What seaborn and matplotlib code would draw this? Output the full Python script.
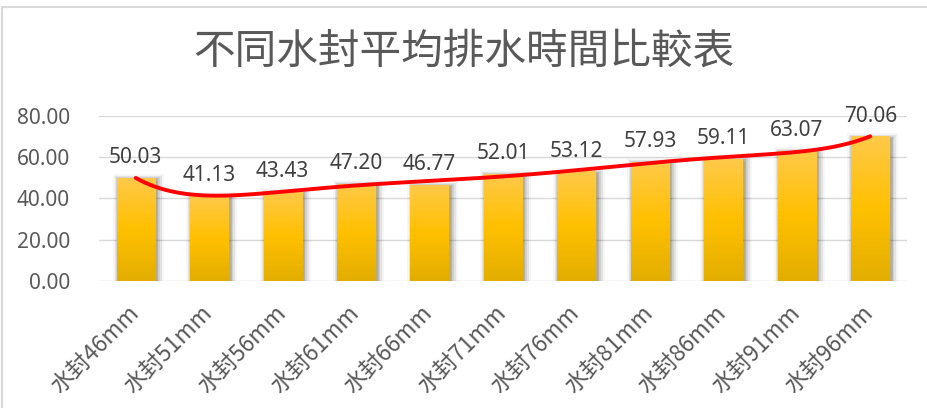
import numpy as np
import pandas as pd
import matplotlib
matplotlib.use("Agg")
import matplotlib.pyplot as plt
import matplotlib.patheffects as pe
import matplotlib.transforms as mtransforms
from matplotlib.patches import Rectangle
from matplotlib.colors import LinearSegmentedColormap
import seaborn as sns

# Average drain time for each water-seal depth
categories = ["水封46mm", "水封51mm", "水封56mm", "水封61mm", "水封66mm", "水封71mm",
              "水封76mm", "水封81mm", "水封86mm", "水封91mm", "水封96mm"]
drain_time = [50.03, 41.13, 43.43, 47.20, 46.77, 52.01, 53.12, 57.93, 59.11, 63.07, 70.06]
y_ticks = [0, 20, 40, 60, 80]
title = "不同水封平均排水時間比較表"

sns.set_theme(style="white")
plt.rcParams["font.family"] = ["Noto Sans CJK TC", "Noto Sans", "DejaVu Sans"]

df = pd.DataFrame({"category": categories, "time": drain_time})

fig = plt.figure(figsize=(9.27, 4.08), dpi=100)
ax = fig.add_axes([0.1068, 0.3113, 0.8716, 0.4044])

sns.barplot(data=df, x="category", y="time", color="#FFC000", width=0.52,
            saturation=1, ax=ax, zorder=3)

ax.set_xlim(-0.5, len(categories) - 0.5)
ax.set_ylim(0, 80)
ax.set_yticks(y_ticks)
ax.set_yticklabels([f"{v:.2f}" for v in y_ticks])
ax.yaxis.grid(True, color="#D9D9D9", linewidth=1.0, zorder=0)
ax.set_axisbelow(True)
for s in ax.spines.values():
    s.set_visible(False)
ax.set_xlabel("")
ax.set_ylabel("")

# gold vertical gradient clipped to each bar, with a soft grey halo
gold = LinearSegmentedColormap.from_list(
    "gold", [(0.0, "#E3AE00"), (0.5, "#FFC000"), (1.0, "#FFC94A")])
grad = np.linspace(0, 1, 256).reshape(-1, 1)
halo = [pe.Stroke(linewidth=9, foreground="#000000", alpha=0.04, offset=(1.5, -1.5)),
        pe.Stroke(linewidth=6.5, foreground="#000000", alpha=0.07, offset=(1.5, -1.5)),
        pe.Stroke(linewidth=4, foreground="#000000", alpha=0.10, offset=(1.5, -1.5)),
        pe.Stroke(linewidth=2, foreground="#000000", alpha=0.12, offset=(1, -1)),
        pe.Normal()]
for bar in ax.patches:
    bar.set_edgecolor("none")
    bar.set_path_effects(halo)
    x0, w, h = bar.get_x(), bar.get_width(), bar.get_height()
    im = ax.imshow(grad, cmap=gold, origin="lower", aspect="auto",
                   extent=[x0, x0 + w, 0, h], zorder=4)
    im.set_clip_path(bar)
ax.set_xlim(-0.5, len(categories) - 0.5)
ax.set_ylim(0, 80)

# value labels above bars
for i, v in enumerate(drain_time):
    ax.annotate(f"{v:.2f}", (i, v), xytext=(0, 7), textcoords="offset points",
                ha="center", va="bottom", fontsize=15, color="#404040",
                family=["Noto Sans", "DejaVu Sans"], zorder=6)

# polynomial trendline
xn = np.arange(1, len(drain_time) + 1)
coef = np.polyfit(xn, drain_time, 6)
xs = np.linspace(1, len(drain_time), 300)
ax.plot(xs - 1, np.polyval(coef, xs), color="#FF0000", linewidth=2.8,
        solid_capstyle="round", zorder=5)

ax.tick_params(axis="y", length=0, pad=21, labelsize=15, labelcolor="#595959")
for t in ax.get_yticklabels():
    t.set_family(["Noto Sans", "DejaVu Sans"])
ax.tick_params(axis="x", length=0, pad=24, labelsize=16.5, labelcolor="#595959")
shift = mtransforms.ScaledTranslation(4 / 100, 0, fig.dpi_scale_trans)
for t in ax.get_xticklabels():
    t.set_rotation(45)
    t.set_ha("right")
    t.set_va("baseline")
    t.set_rotation_mode("anchor")
    t.set_transform(t.get_transform() + shift)

fig.text(0.5, 0.8725, title, ha="center", va="center", fontsize=30,
         color="#595959")

# chart-area border
fig.patches.append(Rectangle((0.002, -0.1), 1.2, 1.083, transform=fig.transFigure,
                             fill=False, edgecolor="#D9D9D9", linewidth=1.5))

fig.savefig("out.png", dpi=100, facecolor="white")
